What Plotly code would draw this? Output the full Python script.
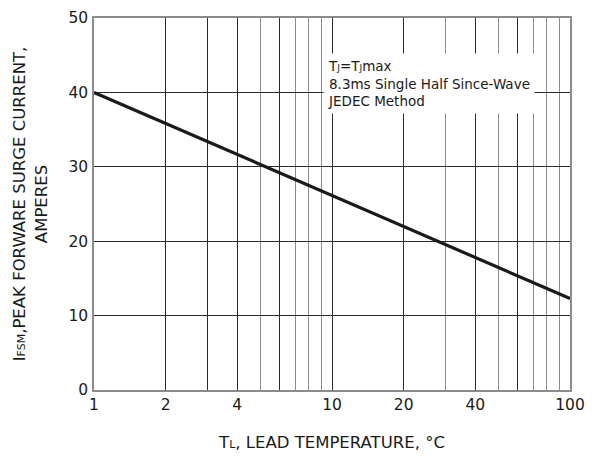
import plotly.graph_objects as go

# Data
temperature = [1, 10, 100]
surge_current = [40.0, 26.2, 12.3]

x_major = [1, 2, 3, 4, 6, 10, 20, 40, 60, 100]
x_major_text = ["1", "2", "", "4", "", "10", "20", "40", "", "100"]
x_minor = [5, 7, 8, 9, 30, 50, 70, 80, 90]
y_ticks = [0, 10, 20, 30, 40, 50]

note = ("T<span style='font-size:9px'>J</span>=T<span style='font-size:9px'>J</span>max<br>"
        "8.3ms Single Half Since-Wave<br>JEDEC Method")

fig = go.Figure()
fig.add_trace(go.Scatter(x=temperature, y=surge_current, mode="lines",
                         line=dict(color="#1a1a1a", width=3.2), showlegend=False,
                         hoverinfo="skip"))

fig.update_layout(
    width=590, height=448,
    margin=dict(l=86, r=28, t=10, b=66),
    paper_bgcolor="white", plot_bgcolor="white",
    font=dict(family="DejaVu Sans, sans-serif", color="#1a1a1a"),
    xaxis=dict(
        type="log", range=[0, 2], automargin=False,
        tickmode="array", tickvals=x_major, ticktext=x_major_text,
        ticks="", ticklabelstandoff=0, ticklabeloverflow="allow",
        tickfont=dict(size=15.5, family="DejaVu Sans, sans-serif"),
        showgrid=True, gridcolor="#2a2a2a", gridwidth=1.3,
        minor=dict(tickvals=x_minor, showgrid=True, gridcolor="#8c8c8c", gridwidth=1.3),
        showline=True, linecolor="#8c8c8c", linewidth=1.5, mirror=True,
        zeroline=False,
        title=dict(text="T<span style='font-size:11px'>L</span>, LEAD TEMPERATURE, °C",
                   font=dict(size=16.5, family="DejaVu Sans, sans-serif"), standoff=23),
    ),
    yaxis=dict(
        range=[0, 50], tickmode="array", tickvals=y_ticks, automargin=False,
        ticks="", ticklabelstandoff=1, ticklabeloverflow="allow",
        tickfont=dict(size=15.5, family="DejaVu Sans, sans-serif"),
        showgrid=True, gridcolor="#2a2a2a", gridwidth=1.3,
        showline=True, linecolor="#8c8c8c", linewidth=1.5, mirror=True,
        zeroline=False,
        title=dict(text="I<span style='font-size:11px'>FSM</span>,PEAK FORWARE SURGE CURRENT,<br>AMPERES",
                   font=dict(size=16.5, family="DejaVu Sans, sans-serif"), standoff=17),
    ),
    annotations=[dict(
        xref="paper", yref="paper", x=0.481, y=0.906, xanchor="left", yanchor="top",
        text=note, showarrow=False, align="left",
        font=dict(size=13.5, family="DejaVu Sans, sans-serif", color="#1a1a1a"),
        bgcolor="white", borderpad=4,
    )],
)

fig.write_html("out.html")
